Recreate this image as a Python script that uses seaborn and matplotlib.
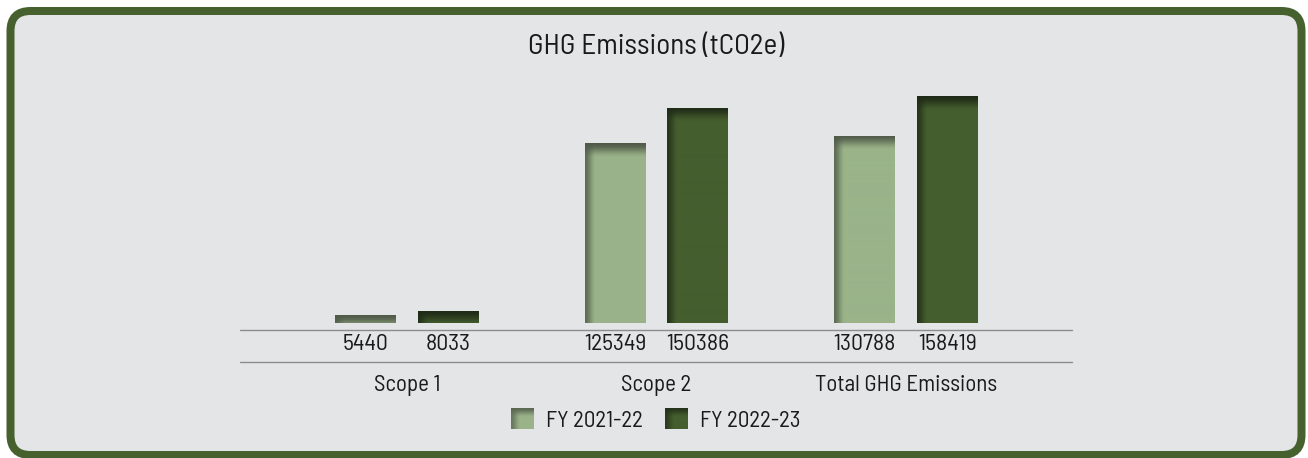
import numpy as np
import matplotlib
matplotlib.use("Agg")
import matplotlib.pyplot as plt
import matplotlib.colors as mcolors
import seaborn as sns
import pandas as pd
from matplotlib.patches import FancyBboxPatch, Rectangle
from matplotlib.lines import Line2D
from matplotlib.legend_handler import HandlerBase
from matplotlib.image import BboxImage
from matplotlib.transforms import Bbox, TransformedBbox, blended_transform_factory

# ---- data -------------------------------------------------------------
categories = ["Scope 1", "Scope 2", "Total GHG Emissions"]
years = ["FY 2021-22", "FY 2022-23"]
fy2122 = [5440, 125349, 130788]
fy2223 = [8033, 150386, 158419]
title = "GHG Emissions (tCO2e)"

df = pd.DataFrame({
    "category": categories * 2,
    "year": [years[0]] * len(categories) + [years[1]] * len(categories),
    "value": fy2122 + fy2223,
})

# ---- style ------------------------------------------------------------
sns.set_theme(style="white")
plt.rcParams["font.family"] = ["Barlow Semi Condensed", "DejaVu Sans"]

BG = "#e4e5e7"
FRAME = "#46602e"
TEXT = "#1a1a1a"
RULE = "#8c8c8c"
palette = {years[0]: "#9ab389", years[1]: "#455e2e"}
shade = {years[0]: "#4c5645", years[1]: "#1e2916"}

W, H = 1308, 458
fig = plt.figure(figsize=(W / 100, H / 100), dpi=100)
fig.patch.set_facecolor("white")


def bevel(body, dark, w_px, h_px, top=15.0, left=11.0, strength=0.95):
    """RGBA array: body colour with a soft inner shadow along top and left edges."""
    w_px, h_px = max(int(round(w_px)), 2), max(int(round(h_px)), 2)
    yy = np.arange(h_px)[:, None] + 0.5
    xx = np.arange(w_px)[None, :] + 0.5
    ft = np.clip(1 - yy / top, 0, 1)
    fl = np.clip(1 - xx / left, 0, 1)
    ft = ft * ft * (3 - 2 * ft)
    fl = fl * fl * (3 - 2 * fl)
    f = (1 - (1 - ft) * (1 - fl * 0.8)) * strength
    b = np.array(mcolors.to_rgb(body))
    d = np.array(mcolors.to_rgb(dark))
    rgb = b[None, None, :] * (1 - f[..., None]) + d[None, None, :] * f[..., None]
    return np.concatenate([rgb, np.ones((h_px, w_px, 1))], axis=2)


# ---- card background ---------------------------------------------------
bg = fig.add_axes([0, 0, 1, 1])
bg.set_xlim(0, W)
bg.set_ylim(H, 0)
bg.axis("off")
bg.add_patch(FancyBboxPatch((7.5, 14), 1292, 442,
                            boxstyle="round,pad=0,rounding_size=20",
                            fc="#cfcfcf", ec="none", alpha=0.6))
bg.add_patch(FancyBboxPatch((10.5, 11), 1291, 444,
                            boxstyle="round,pad=0,rounding_size=20",
                            fc=BG, ec=FRAME, lw=8 * 0.72))
bg.text(656, 47, title, ha="center", va="center", fontsize=21, color=TEXT)
for yline in (330, 362):
    bg.add_line(Line2D([240, 1072], [yline, yline], color=RULE, lw=1.0))

# ---- bars ----------------------------------------------------------------
ax = fig.add_axes([240 / W, (H - 323) / H, 832 / W, 243 / H])
ax.set_facecolor("none")
sns.barplot(data=df, x="category", y="value", hue="year", palette=palette,
            width=0.664, gap=0.265, saturation=1, ax=ax, legend=False,
            linewidth=0, errorbar=None)
xlim = (-0.668, 2.664)
ylim = (0, 169600)
ax.set_xlim(*xlim)
ax.set_ylim(*ylim)
for s in ax.spines.values():
    s.set_visible(False)
ax.set_yticks([])
ax.set_xlabel("")
ax.set_ylabel("")
ax.tick_params(axis="x", length=0, pad=37.5, labelsize=16.5, labelcolor=TEXT)

# inner-shadow gradients clipped to each bar
for year, cont in zip(years, ax.containers):
    for bar, val in zip(cont.patches, cont.datavalues):
        x0, y0 = bar.get_x(), bar.get_y()
        x1, y1 = x0 + bar.get_width(), y0 + bar.get_height()
        (px0, py0), (px1, py1) = ax.transData.transform([(x0, y0), (x1, y1)])
        img = bevel(palette[year], shade[year], px1 - px0, py1 - py0)
        im = ax.imshow(img, extent=(x0, x1, y0, y1), origin="upper",
                       aspect="auto", interpolation="bilinear",
                       zorder=bar.get_zorder() + 0.1)
        im.set_clip_path(bar)
        # value label beneath the baseline
        ax.text(bar.get_x() + bar.get_width() / 2, -21 / 243, f"{val:.0f}",
                transform=blended_transform_factory(ax.transData, ax.transAxes),
                ha="center", va="center", fontsize=17, color=TEXT)
ax.set_xlim(*xlim)
ax.set_ylim(*ylim)


# ---- legend --------------------------------------------------------------
class BevelHandler(HandlerBase):
    def __init__(self, body, dark):
        super().__init__()
        self.body, self.dark = body, dark

    def create_artists(self, legend, orig_handle, xdescent, ydescent,
                       width, height, fontsize, trans):
        bb = TransformedBbox(Bbox.from_bounds(-xdescent, -ydescent, width, height), trans)
        img = BboxImage(bb, interpolation="bilinear")
        img.set_data(bevel(self.body, self.dark, 23, 23, top=10, left=10, strength=0.8))
        return [img]


handles = [Rectangle((0, 0), 1, 1, fc=palette[y]) for y in years]
hmap = {h: BevelHandler(palette[y], shade[y]) for h, y in zip(handles, years)}
fig.legend(handles, years, handler_map=hmap, loc="center",
           bbox_to_anchor=(656 / W, (H - 420) / H), ncol=2, frameon=False,
           fontsize=16.5, handlelength=1.0, handleheight=1.0,
           handletextpad=0.52, columnspacing=0.96, labelcolor=TEXT)

fig.savefig("out.png", dpi=100, facecolor="white")
